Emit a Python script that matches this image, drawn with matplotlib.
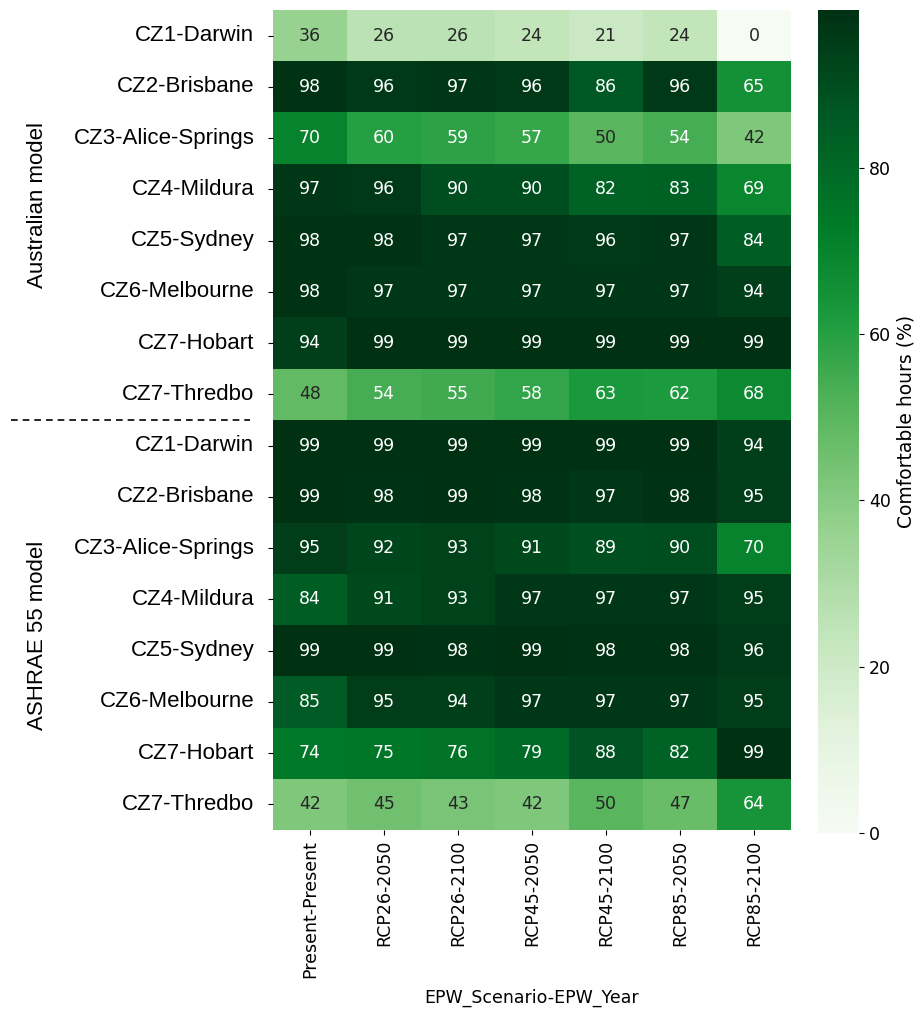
import matplotlib
matplotlib.use("Agg")
import matplotlib.pyplot as plt
import matplotlib.transforms as mtransforms
from matplotlib.colors import ListedColormap, rgb_to_hsv, hsv_to_rgb
import numpy as np
import pandas as pd
import seaborn as sns

# scenario columns
scenarios = ["Present-Present", "RCP26-2050", "RCP26-2100", "RCP45-2050",
             "RCP45-2100", "RCP85-2050", "RCP85-2100"]

# climate zones (same list for both models)
zones = ["CZ1-Darwin", "CZ2-Brisbane", "CZ3-Alice-Springs", "CZ4-Mildura",
         "CZ5-Sydney", "CZ6-Melbourne", "CZ7-Hobart", "CZ7-Thredbo"]

# comfortable hours (%) - Australian model
australian = [
    [36, 26, 26, 24, 21, 24, 0],
    [98, 96, 97, 96, 86, 96, 65],
    [70, 60, 59, 57, 50, 54, 42],
    [97, 96, 90, 90, 82, 83, 69],
    [98, 98, 97, 97, 96, 97, 84],
    [98, 97, 97, 97, 97, 97, 94],
    [94, 99, 99, 99, 99, 99, 99],
    [48, 54, 55, 58, 63, 62, 68],
]

# comfortable hours (%) - ASHRAE 55 model
ashrae = [
    [99, 99, 99, 99, 99, 99, 94],
    [99, 98, 99, 98, 97, 98, 95],
    [95, 92, 93, 91, 89, 90, 70],
    [84, 91, 93, 97, 97, 97, 95],
    [99, 99, 98, 99, 98, 98, 96],
    [85, 95, 94, 97, 97, 97, 95],
    [74, 75, 76, 79, 88, 82, 99],
    [42, 45, 43, 42, 50, 47, 64],
]

model_labels = ["Australian model", "ASHRAE 55 model"]

df = pd.DataFrame(australian + ashrae, index=zones + zones, columns=scenarios)

# Greens, a bit more saturated and darker (like the printed figure)
base = plt.get_cmap("Greens")
hsv = rgb_to_hsv(base(np.linspace(0, 1, 256))[:, :3])
hsv[:, 1] = np.minimum(1, hsv[:, 1] * (1 + 0.5 * hsv[:, 1]))
hsv[:, 2] = hsv[:, 2] ** 1.25
cmap = ListedColormap(hsv_to_rgb(hsv))

fig = plt.figure(figsize=(9.21, 10.14), dpi=100)
ax = fig.add_axes([273 / 921, 1 - 830 / 1014, 518 / 921, 820 / 1014])
cax = fig.add_axes([818 / 921, 1 - 833 / 1014, 41 / 921, 823 / 1014])

sns.heatmap(df, ax=ax, cbar_ax=cax, cmap=cmap, annot=True, fmt="d",
            annot_kws={"fontsize": 12.5},
            cbar_kws={"label": "Comfortable hours (%)"})

# text colour picked from the plain Greens map
vals = df.values.ravel()
vmin, vmax = vals.min(), vals.max()
for txt, v in zip(ax.texts, vals):
    r, g, b, _ = base((v - vmin) / (vmax - vmin))
    lin = [c / 12.92 if c <= 0.03928 else ((c + 0.055) / 1.055) ** 2.4 for c in (r, g, b)]
    lum = 0.2126 * lin[0] + 0.7152 * lin[1] + 0.0722 * lin[2]
    txt.set_color(".15" if lum > 0.408 else "w")

ax.set_xlabel("EPW_Scenario-EPW_Year", fontsize=12.5, labelpad=8)
ax.set_ylabel("")
ax.tick_params(axis="x", labelsize=12.5, rotation=90)
ax.tick_params(axis="y", labelsize=16, rotation=0, pad=10)
for lab in ax.get_yticklabels():
    lab.set_fontfamily("Liberation Sans")

cax.tick_params(labelsize=12.5)
cax.yaxis.label.set_size(13.5)

# dashed separator between the two models
trans = mtransforms.blended_transform_factory(ax.transAxes, ax.transData)
ax.plot([-0.505, -0.044], [len(zones), len(zones)], transform=trans,
        color="black", lw=1.2, ls=(0, (4, 3)), clip_on=False)

# model group labels
ax.text(-0.455, 3.8, model_labels[0], transform=trans, rotation=90,
        ha="center", va="center", fontsize=16, family="Liberation Sans")
ax.text(-0.455, 12.2, model_labels[1], transform=trans, rotation=90,
        ha="center", va="center", fontsize=16, family="Liberation Sans")

fig.savefig("out.png", dpi=100)
